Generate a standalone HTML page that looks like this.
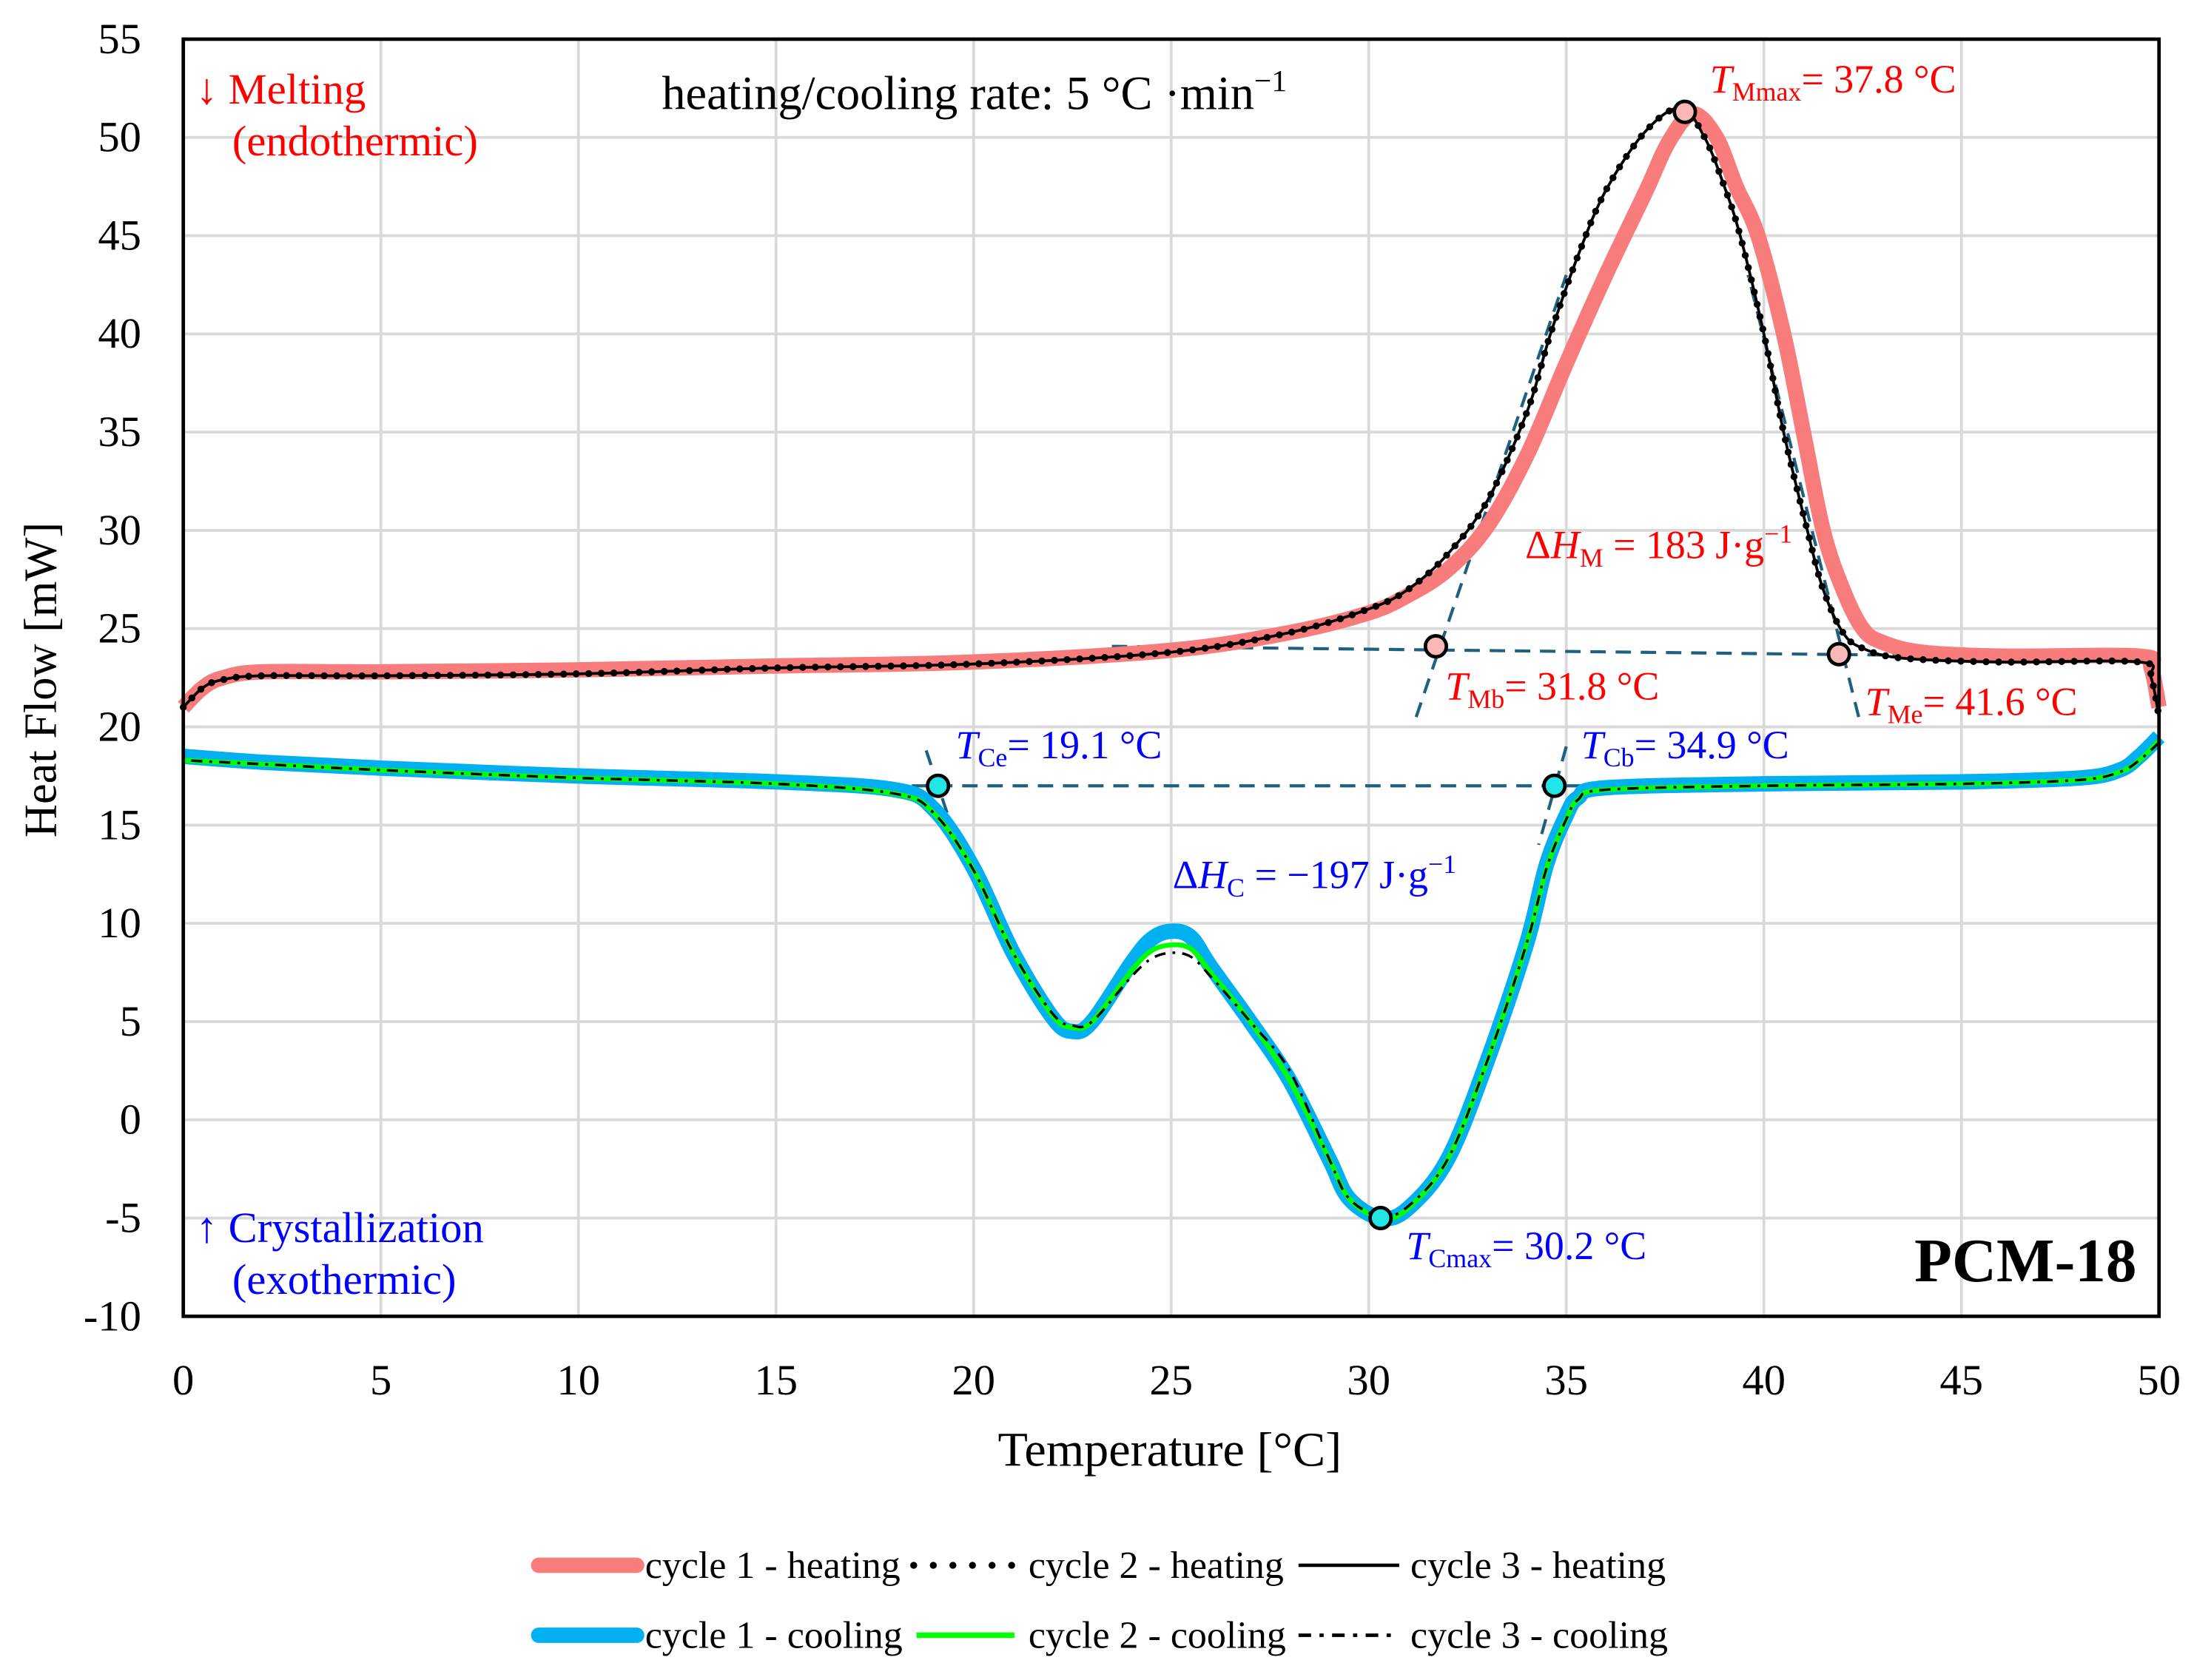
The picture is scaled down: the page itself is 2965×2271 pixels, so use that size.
<!DOCTYPE html>
<html><head><meta charset="utf-8"><style>
html,body{margin:0;padding:0;background:#fff}
svg{display:block}
text{font-family:"Liberation Serif",serif}
</style></head><body>
<svg id="chart" width="2965" height="2271" viewBox="0 0 1568 1201" preserveAspectRatio="none" xmlns="http://www.w3.org/2000/svg">
<g id="grid"></g>
<g id="ticks"></g>
<g id="annot"></g>
<g id="series"></g>
<g id="markers"></g>
<rect x="131" y="28" width="1412" height="913" fill="none" stroke="#000" stroke-width="2.5"/>
<text transform="translate(40,486) rotate(-90)" text-anchor="middle" font-size="33">Heat Flow [mW]</text>
<text x="836" y="1048" text-anchor="middle" font-size="35">Temperature [°C]</text>
<text x="140" y="74" fill="#f00" font-size="31">↓ Melting</text>
<text x="166" y="111" fill="#f00" font-size="31">(endothermic)</text>
<text x="140" y="888" fill="#00f" font-size="31">↑ Crystallization</text>
<text x="166" y="925" fill="#00f" font-size="31">(exothermic)</text>
<text x="473" y="78" font-size="34">heating/cooling rate: 5 °C ·min<tspan dy="-13" font-size="22">−1</tspan></text>
<text x="1527" y="916" text-anchor="end" font-size="44" font-weight="bold">PCM-18</text>
<g font-size="28.5" fill="#f00">
<text x="1222" y="66"><tspan font-style="italic">T</tspan><tspan dy="6" font-size="19">Mmax</tspan><tspan dy="-6">= 37.8 °C</tspan></text>
<text x="1090" y="399">Δ<tspan font-style="italic">H</tspan><tspan dy="6" font-size="19">M</tspan><tspan dy="-6"> = 183 J·g</tspan><tspan dy="-11" font-size="19">−1</tspan></text>
<text x="1033" y="500"><tspan font-style="italic">T</tspan><tspan dy="6" font-size="19">Mb</tspan><tspan dy="-6">= 31.8 °C</tspan></text>
<text x="1333" y="511"><tspan font-style="italic">T</tspan><tspan dy="6" font-size="19">Me</tspan><tspan dy="-6">= 41.6 °C</tspan></text>
</g>
<g font-size="28.5" fill="#00f">
<text x="683" y="542"><tspan font-style="italic">T</tspan><tspan dy="6" font-size="19">Ce</tspan><tspan dy="-6">= 19.1 °C</tspan></text>
<text x="1130" y="542"><tspan font-style="italic">T</tspan><tspan dy="6" font-size="19">Cb</tspan><tspan dy="-6">= 34.9 °C</tspan></text>
<text x="838" y="635">Δ<tspan font-style="italic">H</tspan><tspan dy="6" font-size="19">C</tspan><tspan dy="-6"> = −197 J·g</tspan><tspan dy="-11" font-size="19">−1</tspan></text>
<text x="1005" y="900"><tspan font-style="italic">T</tspan><tspan dy="6" font-size="19">Cmax</tspan><tspan dy="-6">= 30.2 °C</tspan></text>
</g>
<g id="legend" font-size="27.5">
<line x1="385" y1="1119" x2="455" y2="1119" stroke="#f87c7c" stroke-width="11" stroke-linecap="round"/>
<text x="461" y="1128">cycle 1 - heating</text>
<line x1="653" y1="1119" x2="725" y2="1119" stroke="#000" stroke-width="5" stroke-dasharray="0 14" stroke-linecap="round"/>
<text x="735" y="1128">cycle 2 - heating</text>
<line x1="928" y1="1119" x2="1000" y2="1119" stroke="#000" stroke-width="2.5"/>
<text x="1008" y="1128">cycle 3 - heating</text>
<line x1="385" y1="1169" x2="455" y2="1169" stroke="#00b0f0" stroke-width="11" stroke-linecap="round"/>
<text x="461" y="1178">cycle 1 - cooling</text>
<line x1="655" y1="1169" x2="725" y2="1169" stroke="#00ff00" stroke-width="4"/>
<text x="735" y="1178">cycle 2 - cooling</text>
<line x1="928" y1="1169" x2="1000" y2="1169" stroke="#000" stroke-width="2.5" stroke-dasharray="9 6 3 6"/>
<text x="1008" y="1178">cycle 3 - cooling</text>
</g>
</svg>
<script>
const xTicks=[0,5,10,15,20,25,30,35,40,45,50];
const yTicks=[-10,-5,0,5,10,15,20,25,30,35,40,45,50,55];
const heat1T=[0,0.5,1,2,5,10,15,20,25,28,30,31,32,33,34,35,36,37,37.6,38.2,38.8,39.3,39.85,40.5,41,41.5,42,42.5,43,44,46,49.5,49.8,50];
const heat1H=[21,22,22.5,22.8,22.8,22.9,23.1,23.3,23.9,24.8,25.8,26.7,28,30.2,33.8,38.5,43,47.2,49.8,51.2,50,47.5,45,40,35,30,27,25,24.3,23.8,23.6,23.6,23,21];
const heat2T=[0,0.5,1,2,5,10,15,20,25,28,30,31,32,33,34,34.6,35.3,36,37,37.9,38.5,39,39.4,40,40.5,41.1,41.5,42,42.5,43.5,46,49.5,49.8,50];
const heat2H=[21,22,22.4,22.6,22.6,22.7,23,23.2,23.8,24.8,26,27,28.8,31.5,36,40,44,47.3,50.3,51.5,50,47.5,45,40,35,30,27,24.8,24,23.5,23.3,23.3,22.5,20.5];
const cool1T=[50,49.5,49,48,45,40,36,35.3,35,34.5,34,33,32,31,30.3,29.5,29,28,27,26,25.5,25,24.5,24,23,22.5,22,21,20,19,18,15,10,5,2,0];
const cool1H=[19.5,18.5,17.8,17.4,17.2,17.1,16.9,16.4,15.5,13,9,3,-2,-4.5,-5,-4,-2,2,5,7.8,9.3,9.6,9.2,8,5,4.5,5.2,8.5,12.8,15.8,16.8,17.2,17.5,17.9,18.2,18.5];
const cool2H=[19.3,18.3,17.7,17.3,17.1,17,16.8,16.3,15.3,12.8,9,3,-2,-4.5,-5,-4,-2,2,5,7.5,8.7,8.9,8.6,7.6,5,4.7,5.3,8.5,12.7,15.6,16.6,17.1,17.4,17.8,18.1,18.3];
const cool3H=[19.2,18.3,17.7,17.3,17.1,17,16.8,16.3,15.3,12.8,9,3,-2,-4.4,-4.9,-4,-2,2.5,5,7.3,8.3,8.5,8.2,7.3,5,4.8,5.4,8.5,12.7,15.6,16.6,17.1,17.4,17.8,18.1,18.3];
const markT=[38.0,31.7,41.9,19.1,34.7,30.3];
const markH=[51.3,24.1,23.7,17,17,-5];

const NS="http://www.w3.org/2000/svg";
const X0=131,X1=1543,Y0=941,Y1=28;
function sx(v){return X0+(v-0)/(50-0)*(X1-X0);}
function sy(v){return Y0-(v+10)/(65)*(Y0-Y1);}
function mk(tag,attrs,parent){const e=document.createElementNS(NS,tag);for(const k in attrs)e.setAttribute(k,attrs[k]);parent.appendChild(e);return e;}
const grid=document.getElementById('grid'),ticks=document.getElementById('ticks');
xTicks.forEach(t=>{
 const l=mk('line',{x1:sx(t),x2:sx(t),y1:Y1,y2:Y0,stroke:'#d9d9d9','stroke-width':2},grid);
 
 
 const tx=mk('text',{x:sx(t),y:997,'text-anchor':'middle','font-size':31},ticks);tx.textContent=t;
 
 
});
yTicks.forEach(t=>{
 const l=mk('line',{x1:X0,x2:X1,y1:sy(t),y2:sy(t),stroke:'#d9d9d9','stroke-width':2},grid);
 
 
 const tx=mk('text',{x:101,y:sy(t)+10,'text-anchor':'end','font-size':31},ticks);tx.textContent=t;
 
 
});
function smooth(T,H){
 const p=T.map((t,i)=>[sx(t),sy(H[i])]);
 let d='M'+p[0][0]+','+p[0][1];
 for(let i=0;i<p.length-1;i++){
  const a=p[i-1]||p[i],b=p[i],c=p[i+1],e=p[i+2]||c;
  const c1=[b[0]+(c[0]-a[0])/6,b[1]+(c[1]-a[1])/6],c2=[c[0]-(e[0]-b[0])/6,c[1]-(e[1]-b[1])/6];
  d+=' C'+c1+' '+c2+' '+c;
 }
 return d;
}
const S=document.getElementById('series');
function series(name,T,H,attrs){const p=mk('path',Object.assign({d:smooth(T,H),fill:'none'},attrs),S);
 
 }
series('cycle1-heating-line',heat1T,heat1H,{stroke:'#f87c7c','stroke-width':11,'stroke-linejoin':'round'});
series('cycle1-cooling-line',cool1T,cool1H,{stroke:'#00b0f0','stroke-width':11,'stroke-linejoin':'round'});
series('cycle2-cooling-line',cool1T,cool2H,{stroke:'#00ff00','stroke-width':3.5});
series('cycle3-cooling-line',cool1T,cool3H,{stroke:'#000','stroke-width':1.8,'stroke-dasharray':'8 5 2 5'});
series('cycle3-heating-line',heat2T,heat2H,{stroke:'#000','stroke-width':2});
series('cycle2-heating-line',heat2T,heat2H,{stroke:'#000','stroke-width':5,'stroke-dasharray':'0 9','stroke-linecap':'round'});
const A=document.getElementById('annot');
const annT=[[23.5,45.5],[31.2,35],[42.4,39.6],[17.8,35.5],[18.8,19.6],[35,34.3]];
const annH=[[24.1,23.6],[20.5,43],[20.5,43],[17,17],[18.8,14],[19,14]];
annT.forEach((tt,i)=>{
 const l=mk('line',{x1:sx(tt[0]),y1:sy(annH[i][0]),x2:sx(tt[1]),y2:sy(annH[i][1]),stroke:'#1f5f7f','stroke-width':2.2,'stroke-dasharray':'11 7'},A);
 
 
});
const M=document.getElementById('markers');
markT.forEach((t,i)=>{
 const c=mk('circle',{cx:sx(t),cy:sy(markH[i]),r:7.5,fill:i<3?'#f9b8b8':'#22e5e5',stroke:'#000','stroke-width':2.5},M);
 
 
});
</script>
</body></html>
